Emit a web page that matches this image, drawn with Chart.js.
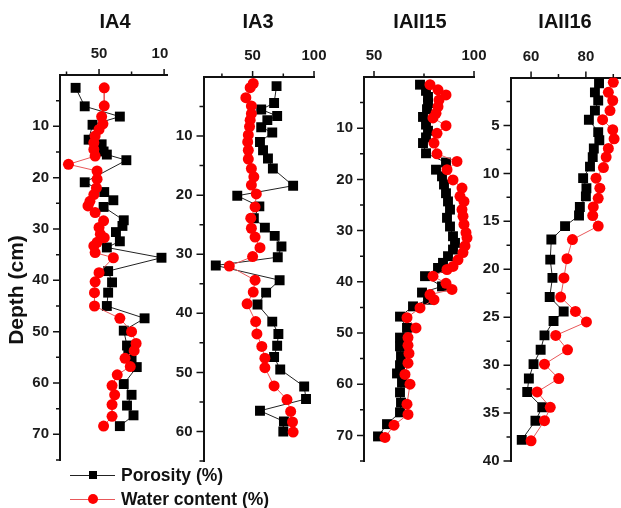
<!DOCTYPE html>
<html>
<head>
<meta charset="utf-8">
<title>Porosity and water content profiles</title>
<script src="https://cdn.jsdelivr.net/npm/chart.js@4.4.1/dist/chart.umd.min.js"></script>
<style>
  body { margin: 0; overflow: hidden; background: #fff; }
  #wrap { position: relative; width: 621px; height: 508px; overflow: hidden; background: #fff; }
  #wrap canvas { position: absolute; top: 0; }
  .leg { position: absolute; left: 70px; height: 20px; display: flex; align-items: center;
         font: bold 17.5px "Liberation Sans", Arial, sans-serif; color: #111; white-space: nowrap; }
  .key { position: relative; width: 45px; height: 20px; margin-right: 6px; }
  .key .ln { position: absolute; left: 0; right: 0; top: 9.5px; height: 1px; }
  .key .mk { position: absolute; }
</style>
</head>
<body>
<div id="wrap">
  <canvas id="ia4"></canvas>
  <canvas id="ia3"></canvas>
  <canvas id="iaii15"></canvas>
  <canvas id="iaii16"></canvas>
  <div class="leg" style="top:465px">
    <div class="key"><div class="ln" style="background:#222"></div><div class="mk" style="left:19px;top:6px;width:8px;height:8px;background:#000"></div></div>Porosity (%)
  </div>
  <div class="leg" style="top:489px">
    <div class="key"><div class="ln" style="background:#e8585a"></div><div class="mk" style="left:18px;top:5px;width:10px;height:10px;border-radius:50%;background:#f00"></div></div>Water content (%)
  </div>
</div>
<script>

// ---------------- IA4 ----------------
var ia4PorDepth = [2.5, 6.1, 8.1, 9.7, 12.6, 13.5, 14.9, 15.5, 16.6, 20.9, 22.8, 24.4, 25.7, 28.3, 29.4, 30.6, 32.4, 33.6, 35.6, 38.2, 40.4, 42.4, 45, 47.4, 49.8, 52.7, 54, 55.6, 56.9, 60.2, 62.3, 64.4, 66.3, 68.4];
var ia4Por      = [32, 39, 66, 45, 42, 52, 53.5, 56, 71, 39, 54, 61, 53.5, 69, 68, 63, 66, 56, 98, 57, 60, 57, 56, 85, 69, 71.5, 72.5, 75, 79, 69, 75, 71.5, 76.5, 66];
var ia4WatDepth = [2.5, 6, 8.1, 9.5, 10.6, 11.9, 13.2, 14.5, 15.8, 17.4, 18.7, 20.3, 22, 23.3, 24.6, 25.5, 26.8, 28.4, 29.7, 31, 31.7, 32.6, 33.3, 34.6, 35.6, 38.5, 40.3, 42.4, 45, 47.4, 50, 52.3, 53.7, 55.2, 56.8, 58.4, 60.5, 62.3, 64.2, 66.5, 68.4];
var ia4Wat      = [54, 54, 52, 53, 50, 47, 46, 46, 47, 26.5, 48.5, 48.5, 48, 46, 43, 41.5, 47, 53.5, 50, 51, 54, 48.5, 46, 47, 61, 50, 47, 46.5, 46.5, 66, 75, 78.5, 77, 70, 74, 64, 60, 62, 60, 60, 53.5];

// ---------------- IA3 ----------------
var ia3PorDepth = [1.55, 4.4, 5.5, 6.6, 7.3, 8.5, 9.4, 11, 12.4, 13.8, 15.5, 18.4, 20.1, 21.9, 23.9, 25.5, 26.9, 28.7, 30.5, 31.9, 34.4, 36.5, 38.5, 41.4, 43.5, 45.5, 47.4, 49.5, 52.4, 54.5, 56.5, 58.3, 60];
var ia3Por      = [69.5, 67.5, 57, 70, 62, 57, 66, 56, 58.5, 62.5, 66.5, 83, 37.5, 55.5, 51, 60, 68, 73.5, 70.5, 20, 72, 61, 54, 66, 71, 70, 67.5, 72.5, 92, 93.5, 56, 75.5, 75];
var ia3WatDepth = [1.1, 1.8, 3.5, 4.9, 6.2, 7.3, 8.4, 9.8, 11, 12.4, 13.9, 15.5, 16.9, 18.3, 19.8, 22, 23.9, 25.6, 27.1, 28.9, 30.4, 32, 34.4, 36.4, 38.4, 41.4, 43.5, 45.6, 47.6, 49.2, 52.3, 54.6, 56.6, 58.4, 60.1];
var ia3Wat      = [50.5, 48, 44.5, 49, 49, 48, 47.5, 46.5, 46, 46.5, 46.5, 49, 51, 49, 53, 52, 48.5, 49, 52, 56, 50, 31, 52, 50.5, 45.5, 52.5, 53.5, 57.5, 60, 60, 67.5, 78, 81, 82.5, 83];

// ---------------- IAII15 ----------------
var iaii15PorDepth = [1.5, 2.7, 3.9, 5.1, 6.3, 7.8, 9.3, 10.5, 11.8, 12.9, 14.9, 16.7, 18.1, 19.4, 21, 22.7, 24.3, 25.9, 27.5, 29.2, 31.1, 32.4, 33.7, 35, 36.3, 37.3, 38.9, 40.9, 42.1, 43.5, 44.8, 46.8, 49, 50.9, 52.6, 54.5, 56.3, 57.9, 59.7, 61.6, 63.6, 65.5, 67.8, 70.2];
var iaii15Por      = [73, 76, 77, 77, 76.5, 74.5, 76, 77, 76, 74.5, 76, 86, 81, 84, 85, 86, 87, 88, 86.5, 88, 89.5, 90.5, 89.5, 87, 84.5, 82, 75.5, 84, 74, 77, 69.5, 63, 66.5, 63, 63, 63.5, 63, 61.5, 64, 63, 63.5, 63, 56.5, 52];
var iaii15WatDepth = [1.5, 2.5, 3.5, 4.5, 5.8, 7.1, 8, 9.5, 11, 12.9, 15, 16.5, 18.1, 20.1, 21.7, 23.3, 24.3, 25.9, 27.2, 28.8, 30.4, 31.4, 33, 34.3, 35.7, 37, 37.6, 38.9, 40.3, 41.5, 42.5, 43.5, 45.1, 47, 49, 50.9, 52.4, 54, 55.9, 58.1, 60, 63.9, 65.9, 68, 70.4];
var iaii15Wat      = [78, 82, 86, 82.5, 82, 81, 79.5, 86, 81.5, 80, 81.5, 91.5, 86.5, 89.5, 94, 93, 95, 94, 94.5, 95, 96, 96.5, 95.5, 94.5, 92, 89.5, 86.5, 79.5, 86, 89, 78, 80, 73, 66.5, 71, 67, 67, 67.5, 67, 65.5, 68, 66.5, 67, 60, 55.5];

// ---------------- IAII16 ----------------
var iaii16PorDepth = [0.6, 1.55, 2.4, 3.45, 4.4, 5.7, 6.55, 7.4, 8.3, 9.3, 10.5, 11.55, 12.4, 13.5, 14.4, 15.5, 16.9, 19, 20.9, 22.9, 24.4, 25.4, 26.9, 28.4, 29.9, 31.4, 32.8, 34.4, 35.8, 37.8];
var iaii16Por      = [84.8, 83.3, 84.5, 83.3, 81.1, 84.5, 84.9, 82.9, 82.5, 81.5, 79, 80.2, 80, 77.8, 77.5, 72.4, 67.4, 67, 67.8, 66.8, 71.9, 68.2, 64.9, 63.5, 60.9, 59.2, 58.6, 64.1, 61.6, 56.6];
var iaii16WatDepth = [0.5, 1.55, 2.4, 3.45, 4.4, 5.45, 6.4, 7.4, 8.3, 9.4, 10.5, 11.55, 12.6, 13.5, 14.4, 15.5, 16.9, 18.9, 20.9, 22.9, 24.4, 25.5, 26.9, 28.4, 29.9, 31.4, 32.8, 34.4, 35.8, 37.9];
var iaii16Wat      = [90, 88.2, 89.8, 88.8, 86.1, 89.8, 90.3, 88.2, 87.4, 86.4, 83.7, 85.1, 84.5, 82.7, 82.5, 84.5, 75.1, 73.1, 72, 70.8, 76.2, 80.2, 69, 73.3, 64.9, 70.1, 62.2, 67, 64.9, 60];

// tick labels and tick marks of each panel
var ia4XLabels = [50, 100],     ia4XMinor = [25, 75];
var ia4YLabels = [10, 20, 30, 40, 50, 60, 70],  ia4YMinor = [5, 15, 25, 35, 45, 55, 65, 75];
var ia3XLabels = [50, 100],     ia3XMinor = [25, 75];
var ia3YLabels = [10, 20, 30, 40, 50, 60],      ia3YMinor = [5, 15, 25, 35, 45, 55, 65];
var iaii15XLabels = [50, 100],  iaii15XMinor = [75];
var iaii15YLabels = [10, 20, 30, 40, 50, 60, 70], iaii15YMinor = [5, 15, 25, 35, 45, 55, 65, 75];
var iaii16XLabels = [60, 80, 100], iaii16XMinor = [70, 90];
var iaii16YLabels = [5, 10, 15, 20, 25, 30, 35, 40], iaii16YMinor = [2.5, 7.5, 12.5, 17.5, 22.5, 27.5, 32.5, 37.5];

var FONT = '"Liberation Sans", Arial, Helvetica, sans-serif';
var PAGE_H = 508;

//turn a depth list and a value list into scatter points
function toPoints(depth, values) {
  return depth.map(function(d, i) {
    return { x: values[i], y: d };
  });
}

//draws the short/long tick marks, the panel name and the depth label
var panelDecor = {
  id: 'panelDecor',
  afterDraw: function(chart, args, opts) {
    var ctx = chart.ctx;
    var a = chart.chartArea;
    var xs = chart.scales.x;
    var ys = chart.scales.y;

    ctx.save();
    ctx.strokeStyle = '#111';
    ctx.lineWidth = 1.5;
    ctx.beginPath();
    opts.xMajor.forEach(function(v) {
      var p = xs.getPixelForValue(v);
      ctx.moveTo(p, a.top); ctx.lineTo(p, a.top - 6);
    });
    opts.xMinor.forEach(function(v) {
      var p = xs.getPixelForValue(v);
      ctx.moveTo(p, a.top); ctx.lineTo(p, a.top - 3.5);
    });
    opts.yMajor.forEach(function(v) {
      var p = ys.getPixelForValue(v);
      ctx.moveTo(a.left, p); ctx.lineTo(a.left - 7, p);
    });
    opts.yMinor.forEach(function(v) {
      var p = ys.getPixelForValue(v);
      ctx.moveTo(a.left, p); ctx.lineTo(a.left - 4, p);
    });
    ctx.stroke();

    ctx.fillStyle = '#111';
    ctx.textAlign = 'center';
    ctx.textBaseline = 'middle';
    ctx.font = 'bold 20px ' + FONT;
    ctx.fillText(opts.title, opts.titleX, 22);

    if (opts.depthLabel) {
      ctx.translate(17, 290);
      ctx.rotate(-Math.PI / 2);
      ctx.font = 'bold 21px ' + FONT;
      ctx.fillText('Depth (cm)', 0, 0);
    }
    ctx.restore();
  }
};

//one depth profile chart
function printPanel(p) {
  var canvas = document.getElementById(p.id);
  canvas.width = p.cw;
  canvas.height = PAGE_H;
  canvas.style.left = p.cl + 'px';
  canvas.style.width = p.cw + 'px';
  canvas.style.height = PAGE_H + 'px';

  var tickFont = { family: FONT, size: 15, weight: 'bold' };

  return new Chart(canvas, {
    type: 'scatter',
    data: {
      datasets: [
        {
          label: 'Water content (%)',
          data: toPoints(p.watDepth, p.wat),
          showLine: true,
          borderColor: '#e8585a',
          borderWidth: 1,
          pointStyle: 'circle',
          pointRadius: 5.5,
          pointBackgroundColor: '#ff0000',
          pointBorderWidth: 0,
          order: 0
        },
        {
          label: 'Porosity (%)',
          data: toPoints(p.porDepth, p.por),
          showLine: true,
          borderColor: '#222',
          borderWidth: 1,
          pointStyle: 'rect',
          pointRadius: 7,
          pointBackgroundColor: '#000',
          pointBorderWidth: 0,
          order: 1
        }
      ]
    },
    options: {
      responsive: false,
      devicePixelRatio: 1,
      animation: false,
      events: [],
      layout: {
        autoPadding: false,
        padding: { left: 0, top: 0, right: p.cl + p.cw - p.aR, bottom: PAGE_H - p.aB }
      },
      scales: {
        x: {
          type: 'linear',
          position: 'top',
          min: p.xMin,
          max: p.xMax,
          grid: { display: false, drawTicks: false },
          border: { display: true, color: '#111', width: 2 },
          ticks: { autoSkip: false, maxRotation: 0, padding: 12, color: '#1a1a1a', font: tickFont },
          afterBuildTicks: function(s) {
            s.ticks = p.xLabels.map(function(v) { return { value: v }; });
          },
          afterFit: function(s) {
            s.height = p.aT;
            s.paddingLeft = 0;
            s.paddingRight = 0;
          }
        },
        y: {
          type: 'linear',
          position: 'left',
          reverse: true,
          min: 0,
          max: p.yMax,
          grid: { display: false, drawTicks: false },
          border: { display: true, color: '#111', width: 2 },
          ticks: { autoSkip: false, padding: 11, color: '#1a1a1a', font: tickFont },
          afterBuildTicks: function(s) {
            s.ticks = p.yLabels.map(function(v) { return { value: v }; });
          },
          afterFit: function(s) {
            s.width = p.aL - p.cl;
            s.paddingTop = 0;
            s.paddingBottom = 0;
          }
        }
      },
      plugins: {
        legend: { display: false },
        tooltip: { enabled: false },
        panelDecor: {
          title: p.title,
          titleX: p.titleX - p.cl,
          depthLabel: !!p.depthLabel,
          xMajor: p.xLabels, xMinor: p.xMinor,
          yMajor: p.yLabels, yMinor: p.yMinor
        }
      }
    },
    plugins: [panelDecor]
  });
}

printPanel({
  id: 'ia4', title: 'IA4', titleX: 115, depthLabel: true,
  cl: 0, cw: 168, aL: 60, aR: 168, aT: 75, aB: 460,
  xMin: 20, xMax: 103, yMax: 75,
  xLabels: ia4XLabels, xMinor: ia4XMinor, yLabels: ia4YLabels, yMinor: ia4YMinor,
  porDepth: ia4PorDepth, por: ia4Por, watDepth: ia4WatDepth, wat: ia4Wat
});

printPanel({
  id: 'ia3', title: 'IA3', titleX: 258,
  cl: 168, cw: 172, aL: 203.5, aR: 314, aT: 77, aB: 461,
  xMin: 10, xMax: 100, yMax: 65,
  xLabels: ia3XLabels, xMinor: ia3XMinor, yLabels: ia3YLabels, yMinor: ia3YMinor,
  porDepth: ia3PorDepth, por: ia3Por, watDepth: ia3WatDepth, wat: ia3Wat
});

printPanel({
  id: 'iaii15', title: 'IAII15', titleX: 420,
  cl: 336, cw: 154, aL: 364, aR: 474, aT: 77, aB: 461,
  xMin: 45, xMax: 100, yMax: 75,
  xLabels: iaii15XLabels, xMinor: iaii15XMinor, yLabels: iaii15YLabels, yMinor: iaii15YMinor,
  porDepth: iaii15PorDepth, por: iaii15Por, watDepth: iaii15WatDepth, wat: iaii15Wat
});

printPanel({
  id: 'iaii16', title: 'IAII16', titleX: 565,
  cl: 476, cw: 172, aL: 510.5, aR: 640.7, aT: 77.5, aB: 461,
  xMin: 52.5, xMax: 100, yMax: 40,
  xLabels: iaii16XLabels, xMinor: iaii16XMinor, yLabels: iaii16YLabels, yMinor: iaii16YMinor,
  porDepth: iaii16PorDepth, por: iaii16Por, watDepth: iaii16WatDepth, wat: iaii16Wat
});

</script>
</body>
</html>
